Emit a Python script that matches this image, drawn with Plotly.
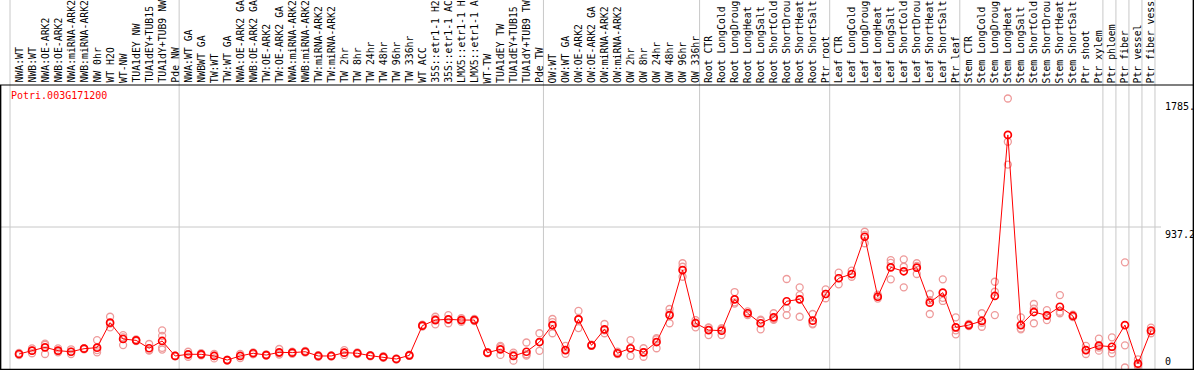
import plotly.graph_objects as go

gene = "Potri.003G171200"

# category labels as they are shown (the source chart cuts them at 14 characters)
labels = [
    "NWA:WT", "NWB:WT", "NWA:OE-ARK2", "NWB:OE-ARK2", "NWA:miRNA-ARK2", "NWB:miRNA-ARK2",
    "NW 0hr", "WT H2O", "WT-NW", "TUA1dEY NW", "TUA1dEY+TUB15", "TUA1dY+TUB9 NW", "Pde NW",
    "NWA:WT GA", "NWBWT GA", "TW:WT", "TW:WT GA", "NWA:OE-ARK2 GA", "NWB:OE-ARK2 GA",
    "TW:OE-ARK2", "TW:OE-ARK2 GA", "NWA:miRNA-ARK2", "NWB:miRNA-ARK2", "TW:miRNA-ARK2",
    "TW:miRNA-ARK2", "TW 2hr", "TW 8hr", "TW 24hr", "TW 48hr", "TW 96hr", "TW 336hr", "WT ACC",
    "35S::etr1-1 H2", "35S::etr1-1 AC", "LMX5::etr1-1 H", "LMX5::etr1-1 A", "WT-TW",
    "TUA1dEY TW", "TUA1dEY+TUB15", "TUA1dY+TUB9 TW", "Pde TW",
    "OW:WT", "OW:WT GA", "OW:OE-ARK2", "OW:OE-ARK2 GA", "OW:miRNA-ARK2", "OW:miRNA-ARK2",
    "OW 2hr", "OW 8hr", "OW 24hr", "OW 48hr", "OW 96hr", "OW 336hr",
    "Root CTR", "Root LongCold", "Root LongDroug", "Root LongHeat", "Root LongSalt",
    "Root ShortCold", "Root ShortDrou", "Root ShortHeat", "Root ShortSalt", "Ptr root",
    "Leaf CTR", "Leaf LongCold", "Leaf LongDroug", "Leaf LongHeat", "Leaf LongSalt",
    "Leaf ShortCold", "Leaf ShortDrou", "Leaf ShortHeat", "Leaf ShortSalt", "Ptr leaf",
    "Stem CTR", "Stem LongCold", "Stem LongDroug", "Stem LongHeat", "Stem LongSalt",
    "Stem ShortCold", "Stem ShortDrou", "Stem ShortHeat", "Stem ShortSalt", "Ptr shoot",
    "Ptr xylem", "Ptr phloem", "Ptr fiber", "Ptr vessel", "Ptr fiber vess",
]

means = [
    99, 121, 143, 121, 114, 134, 141, 306, 198, 189, 137, 185, 86,
    97, 97, 86, 59, 86, 104, 92, 110, 108, 114, 86, 86, 108, 104, 88, 79, 66, 90, 286,
    323, 328, 323, 323, 108, 130, 86, 114, 178,
    290, 125, 328, 156, 262, 104, 137, 110, 178, 356, 653, 302,
    257, 253, 460, 368, 302, 341, 447, 460, 319, 495,
    599, 627, 873, 477, 671, 645, 669, 438, 504, 275,
    290, 317, 482, 1545, 290, 376, 354, 411, 350, 125, 154,
    147, 290, 35, 253,
]

reps = [
    [92, 99, 106], [136, 121, 104], [167, 160, 99], [136, 117, 110], [130, 114, 99],
    [130, 134, 138], [191, 125, 110], [345, 300, 275], [224, 209, 158], [195, 189, 184],
    [165, 125, 121], [255, 219, 140, 128], [86, 84, 88],
    [114, 97, 81], [104, 97, 90], [100, 88, 70], [62, 59, 56], [100, 86, 72], [110, 104, 97],
    [97, 92, 88], [132, 104, 95], [114, 108, 100], [120, 114, 108], [92, 86, 81],
    [90, 86, 82], [125, 108, 92], [110, 104, 98], [92, 88, 84], [84, 79, 74], [70, 66, 62],
    [95, 90, 86], [292, 286, 280], [345, 330, 295], [356, 326, 302], [335, 323, 311],
    [330, 323, 316], [112, 108, 104], [152, 145, 93], [108, 95, 55], [175, 95, 88, 98],
    [236, 178, 120],
    [330, 310, 236], [152, 125, 100], [383, 330, 270], [160, 156, 152], [297, 255, 236],
    [114, 100, 98], [191, 135, 86], [137, 112, 81], [203, 195, 137], [396, 370, 302],
    [698, 675, 609], [323, 308, 275],
    [275, 272, 224], [270, 265, 224], [508, 440, 432], [380, 368, 356], [325, 319, 262],
    [368, 330, 325], [594, 400, 356], [539, 488, 345], [363, 300, 295], [526, 495, 467],
    [636, 600, 559], [649, 625, 609], [906, 885, 830], [490, 477, 465], [719, 700, 592],
    [724, 675, 539], [698, 680, 627], [495, 455, 363], [592, 470, 449], [341, 255, 229],
    [298, 290, 283], [368, 305, 279], [576, 510, 356], [1785.2, 1500, 1349], [341, 268, 262],
    [429, 398, 302], [389, 350, 323], [488, 378, 368], [358, 350, 342], [152, 125, 99],
    [200, 142, 121],
    [209, 128, 104], [704, 156, 10], [64, 25, 16], [273, 250, 236],
]

# items after which a grey separator is drawn (0 = left edge)
group_ends = [0, 13, 41, 53, 63, 73, 84, 85, 86, 87, 88]

# ---------------- geometry ----------------
W, H = 1194, 370
X0, DX = 6.0, 13.011          # pixel = X0 + DX * item
PLOT_BOTTOM, PLOT_TOP = 369, 85
RIGHT_LABEL_X = 1163

ymax = 1.05 * max(max(r) for r in reps)
ppu = (PLOT_BOTTOM - PLOT_TOP) / ymax     # pixels per unit
yrange = [-(H - PLOT_BOTTOM) / ppu, PLOT_BOTTOM / ppu]
xrange = [-X0 / DX, (W - X0) / DX]

xs = list(range(1, len(labels) + 1))
rx, ry = [], []
for i, r in zip(xs, reps):
    for v in r:
        rx.append(i)
        ry.append(v)

MONO = "DejaVu Sans Mono"

fig = go.Figure()
fig.add_trace(go.Scatter(
    x=rx, y=ry, mode="markers", hoverinfo="skip",
    marker=dict(symbol="circle-open", size=7, color="#EE9A9A", line=dict(width=1.3, color="#EE9A9A")),
))
fig.add_trace(go.Scatter(
    x=xs, y=means, mode="lines+markers",
    line=dict(color="#FF0000", width=1),
    marker=dict(symbol="circle-open", size=7, color="#FF0000", line=dict(width=1.7, color="#FF0000")),
))

shapes = []
# separators
for k in group_ends:
    xv = k + (10 - X0) / DX
    shapes.append(dict(type="line", xref="x", yref="paper", x0=xv, x1=xv, y0=0, y1=1,
                       line=dict(color="#C8C8C8", width=1), layer="below"))
# mid grid line
shapes.append(dict(type="line", xref="paper", yref="y", x0=0, x1=(RIGHT_LABEL_X - 2) / W,
                   y0=ymax / 2, y1=ymax / 2, line=dict(color="#C8C8C8", width=1), layer="below"))
# header separator
shapes.append(dict(type="line", xref="paper", yref="y", x0=0, x1=1, y0=ymax, y1=ymax,
                   line=dict(color="black", width=1.2)))
# frame
shapes.append(dict(type="line", xref="paper", yref="paper", x0=0.6 / W, x1=0.6 / W, y0=0, y1=1 - PLOT_TOP / H,
                   line=dict(color="black", width=1.5)))
shapes.append(dict(type="line", xref="paper", yref="paper", x0=1 - 0.6 / W, x1=1 - 0.6 / W, y0=0, y1=1,
                   line=dict(color="black", width=1.5)))
shapes.append(dict(type="line", xref="paper", yref="paper", x0=0, x1=1, y0=0.6 / H, y1=0.6 / H,
                   line=dict(color="black", width=1.5)))

annotations = []
for i, lab in zip(xs, labels):
    annotations.append(dict(
        x=i, y=ymax + 1.0 / ppu, xref="x", yref="y", text=lab, showarrow=False,
        textangle=-90, xanchor="center", yanchor="bottom",
        font=dict(family=MONO, size=9.8, color="black"), borderpad=0,
    ))
annotations.append(dict(
    x=9 / W, y=1 - 88 / H, xref="paper", yref="paper", text=gene, showarrow=False,
    xanchor="left", yanchor="top", font=dict(family=MONO, size=10, color="#FF0000"),
))
top_val = max(max(r) for r in reps)
# the source chart only has room for 5 characters in its right-hand label column
for val, txt, anchor in [(top_val, f"{top_val:.1f}"[:5], "top"),
                         (ymax / 2, f"{ymax / 2:.1f}"[:5], "top"),
                         (0, "0", "bottom")]:
    annotations.append(dict(
        x=RIGHT_LABEL_X / W, y=val, xref="paper", yref="y", text=txt, showarrow=False,
        xanchor="left", yanchor=anchor, font=dict(family=MONO, size=10, color="black"),
    ))

fig.update_layout(
    width=W, height=H, margin=dict(l=0, r=0, t=0, b=0, pad=0),
    paper_bgcolor="white", plot_bgcolor="white", showlegend=False,
    xaxis=dict(range=xrange, visible=False, fixedrange=True),
    yaxis=dict(range=yrange, visible=False, fixedrange=True),
    shapes=shapes, annotations=annotations,
)

fig.write_html("out.html", config={"displayModeBar": False, "responsive": False},
               post_script="document.body.style.margin='0';document.body.style.overflow='hidden';")
